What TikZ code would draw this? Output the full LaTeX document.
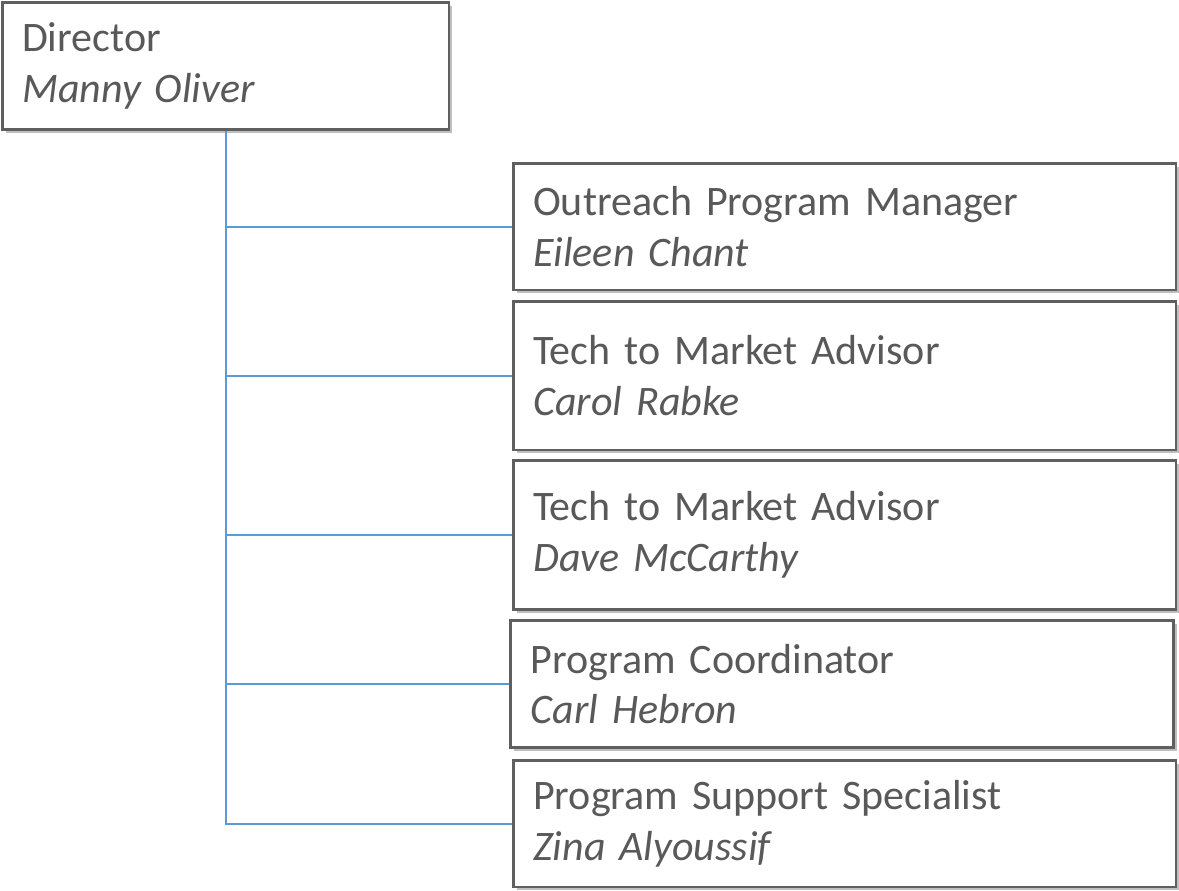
\documentclass[tikz,border=0pt]{standalone}
\usepackage{fontspec}
\setmainfont{Carlito}
\usepackage{tikz}
\usetikzlibrary{shadows, positioning, calc}
\definecolor{boxgray}{RGB}{95, 95, 95}
\definecolor{textgray}{RGB}{89, 89, 89}
\definecolor{linkblue}{RGB}{91, 155, 213}

\begin{document}
\begin{tikzpicture}[
  x=0.75pt, y=-0.75pt,
  pbox/.style={draw=boxgray, line width=2pt, fill=white, align=left, inner xsep=15pt, inner ysep=0pt, text=textgray, font=\fontsize{31.5}{38}\selectfont, drop shadow={shadow xshift=2.5pt, shadow yshift=-2.5pt, fill=black, opacity=0.25}},
  mbox/.style={pbox, text width=467pt, minimum height=95pt},
  link/.style={draw=linkblue, line width=1.5pt}
]
  \useasboundingbox (0,0) rectangle (1179,890);
  \node[pbox, text width=305pt, minimum height=95pt] (dir) at (225.5, 66) {
    Director\\
    \textit{Manny Oliver}
  };
  \node[mbox] (outreach) at (844.5, 226.5) {
    Outreach Program Manager\\
    \textit{Eileen Chant}
  };
  \node[mbox, minimum height=111.5pt] (carol) at (844.5, 375.5) {
    Tech to Market Advisor\\
    \textit{Carol Rabke}
  };
  \node[mbox, minimum height=111.5pt] (dave) at (844.5, 535) {
    Tech to Market Advisor\\
    \textit{Dave McCarthy}
  };
  \node[mbox] (coord) at (842, 684) {
    Program Coordinator\\
    \textit{Carl Hebron}
  };
  \node[mbox] (support) at (844.5, 823.5) {
    Program Support Specialist\\
    \textit{Zina Alyoussif}
  };
  \draw[link] (dir.south) |- (support.west);
  \foreach \m in {outreach, carol, dave, coord}
    \draw[link] (dir.south |- \m.west) -- (\m.west);
\end{tikzpicture}
\end{document}
